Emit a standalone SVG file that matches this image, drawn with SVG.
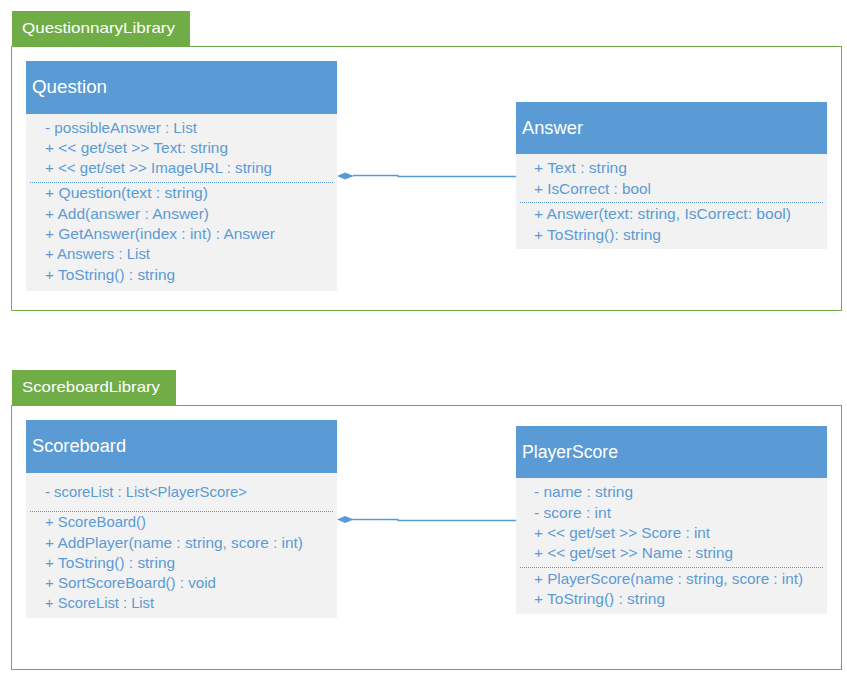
<svg xmlns="http://www.w3.org/2000/svg" width="847" height="673" viewBox="0 0 847 673">
<style>
.frame{fill:none;stroke:#70AD47;stroke-width:1}
.tab{fill:#70AD47}
.tabt{fill:#fff;font-family:"Liberation Sans",Arial,sans-serif;font-size:15px}
.hdr{fill:#5B9BD5}
.body{fill:#F2F2F2}
.title{fill:#fff;font-family:"Liberation Sans",Arial,sans-serif;font-size:18px}
.m{fill:#5B9BD5;font-family:"Liberation Sans",Arial,sans-serif;font-size:15px}
.sep{stroke:#5B9BD5;stroke-width:1;stroke-dasharray:1 1;fill:none}
.conn{stroke:#5B9BD5;stroke-width:1.3;fill:none}
.dia{fill:#5B9BD5}
</style>
<rect width="847" height="673" fill="#fff"/>
<g id="QuestionnaryLibrary">
<rect class="frame" x="11.5" y="46.5" width="830" height="264"/>
<rect class="tab" x="12" y="11" width="178" height="35"/>
<text class="tabt" x="22" y="33" textLength="153" lengthAdjust="spacingAndGlyphs">QuestionnaryLibrary</text>
</g>
<g id="ScoreboardLibrary">
<rect class="frame" x="11.5" y="405.5" width="830" height="264"/>
<rect class="tab" x="12" y="370" width="164" height="35"/>
<text class="tabt" x="22" y="392" textLength="138" lengthAdjust="spacingAndGlyphs">ScoreboardLibrary</text>
</g>
<g id="Question">
<rect class="hdr" x="26" y="61" width="311" height="53"/>
<rect class="body" x="26" y="114" width="311" height="177"/>
<text class="title" x="32" y="93" textLength="75" lengthAdjust="spacingAndGlyphs">Question</text>
<text class="m" x="45" y="133" textLength="152" lengthAdjust="spacingAndGlyphs">- possibleAnswer : List</text>
<text class="m" x="45" y="153" textLength="183" lengthAdjust="spacingAndGlyphs">+ &lt;&lt; get/set &gt;&gt; Text: string</text>
<text class="m" x="45" y="173" textLength="227" lengthAdjust="spacingAndGlyphs">+ &lt;&lt; get/set &gt;&gt; ImageURL : string</text>
<line class="sep" x1="30" y1="182.5" x2="333" y2="182.5"/>
<text class="m" x="45" y="198" textLength="163" lengthAdjust="spacingAndGlyphs">+ Question(text : string)</text>
<text class="m" x="45" y="219" textLength="164" lengthAdjust="spacingAndGlyphs">+ Add(answer : Answer)</text>
<text class="m" x="45" y="239" textLength="230" lengthAdjust="spacingAndGlyphs">+ GetAnswer(index : int) : Answer</text>
<text class="m" x="45" y="259" textLength="105" lengthAdjust="spacingAndGlyphs">+ Answers : List</text>
<text class="m" x="45" y="280" textLength="130" lengthAdjust="spacingAndGlyphs">+ ToString() : string</text>
</g>
<g id="Answer">
<rect class="hdr" x="516" y="102" width="311" height="52"/>
<rect class="body" x="516" y="154" width="311" height="95"/>
<text class="title" x="522" y="134" textLength="61" lengthAdjust="spacingAndGlyphs">Answer</text>
<text class="m" x="534" y="173" textLength="93" lengthAdjust="spacingAndGlyphs">+ Text : string</text>
<text class="m" x="534" y="194" textLength="117" lengthAdjust="spacingAndGlyphs">+ IsCorrect : bool</text>
<line class="sep" x1="520" y1="202.5" x2="823" y2="202.5"/>
<text class="m" x="534" y="219" textLength="257" lengthAdjust="spacingAndGlyphs">+ Answer(text: string, IsCorrect: bool)</text>
<text class="m" x="534" y="240" textLength="127" lengthAdjust="spacingAndGlyphs">+ ToString(): string</text>
</g>
<g id="Scoreboard">
<rect class="hdr" x="26" y="420" width="311" height="53"/>
<rect class="body" x="26" y="473" width="311" height="145"/>
<text class="title" x="32" y="452" textLength="94" lengthAdjust="spacingAndGlyphs">Scoreboard</text>
<text class="m" x="45" y="497" textLength="202" lengthAdjust="spacingAndGlyphs">- scoreList : List&lt;PlayerScore&gt;</text>
<line class="sep" x1="30" y1="511.5" x2="333" y2="511.5"/>
<text class="m" x="45" y="527" textLength="101" lengthAdjust="spacingAndGlyphs">+ ScoreBoard()</text>
<text class="m" x="45" y="548" textLength="258" lengthAdjust="spacingAndGlyphs">+ AddPlayer(name : string, score : int)</text>
<text class="m" x="45" y="568" textLength="130" lengthAdjust="spacingAndGlyphs">+ ToString() : string</text>
<text class="m" x="45" y="588" textLength="171" lengthAdjust="spacingAndGlyphs">+ SortScoreBoard() : void</text>
<text class="m" x="45" y="608" textLength="109" lengthAdjust="spacingAndGlyphs">+ ScoreList : List</text>
</g>
<g id="PlayerScore">
<rect class="hdr" x="516" y="426" width="311" height="52"/>
<rect class="body" x="516" y="478" width="311" height="136"/>
<text class="title" x="522" y="458" textLength="96" lengthAdjust="spacingAndGlyphs">PlayerScore</text>
<text class="m" x="534" y="497" textLength="99" lengthAdjust="spacingAndGlyphs">- name : string</text>
<text class="m" x="534" y="518" textLength="77" lengthAdjust="spacingAndGlyphs">- score : int</text>
<text class="m" x="534" y="538" textLength="176" lengthAdjust="spacingAndGlyphs">+ &lt;&lt; get/set &gt;&gt; Score : int</text>
<text class="m" x="534" y="558" textLength="199" lengthAdjust="spacingAndGlyphs">+ &lt;&lt; get/set &gt;&gt; Name : string</text>
<line class="sep" x1="520" y1="567.5" x2="823" y2="567.5"/>
<text class="m" x="534" y="584" textLength="269" lengthAdjust="spacingAndGlyphs">+ PlayerScore(name : string, score : int)</text>
<text class="m" x="534" y="604" textLength="131" lengthAdjust="spacingAndGlyphs">+ ToString() : string</text>
</g>
<g id="connectors">
<polyline class="conn" points="353,175.5 398,175.5 398,176.5 516,176.5"/>
<polygon class="dia" points="337,176 345,172.5 354,176 345,179.5"/>
<polyline class="conn" points="353,519.5 398,519.5 398,520.5 516,520.5"/>
<polygon class="dia" points="337,519.5 345,516 354,519.5 345,523"/>
</g>
</svg>
